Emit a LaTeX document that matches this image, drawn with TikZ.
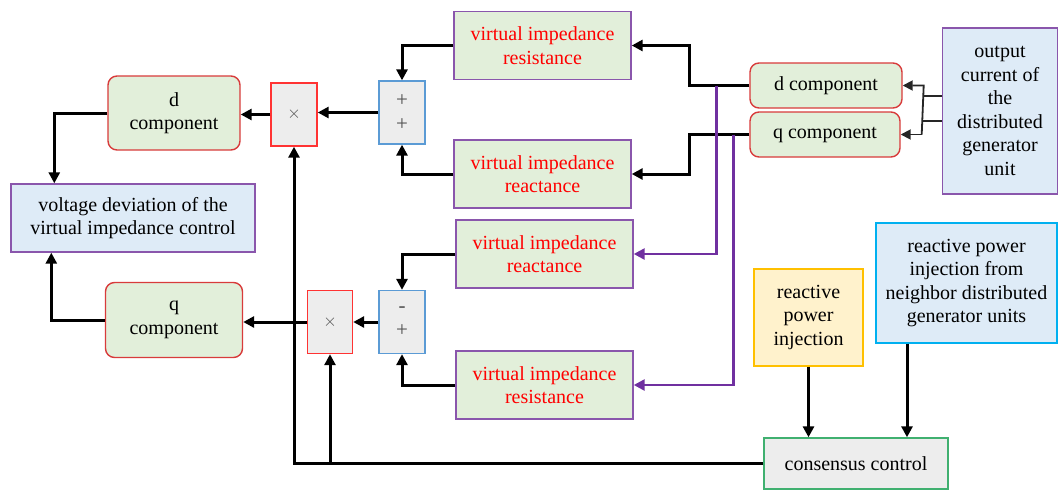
\documentclass[tikz,border=0pt]{standalone}
\usepackage{fontspec}
\setmainfont{Liberation Serif}
\usepackage{tikz}
\usetikzlibrary{arrows.meta}

\definecolor{boxgreen}{HTML}{E2EFDA}
\definecolor{boxgray}{HTML}{EDEDED}
\definecolor{boxblue}{HTML}{DEEBF7}
\definecolor{boxyellow}{HTML}{FFF2CC}
\definecolor{compred}{HTML}{D83B3B}
\definecolor{multred}{HTML}{FF3333}
\definecolor{sumblue}{HTML}{5B9BD5}
\definecolor{vipurple}{HTML}{8A56AC}
\definecolor{arrpurple}{HTML}{7030A0}
\definecolor{injyellow}{HTML}{FFC000}
\definecolor{neighcyan}{HTML}{00B0F0}
\definecolor{consgreen}{HTML}{40B070}
\definecolor{signgray}{HTML}{505050}

\begin{document}
\begin{tikzpicture}[x=1pt,y=-1pt,
    font=\fontsize{20}{23.5}\selectfont,
    comp/.style={draw=compred,fill=boxgreen,rounded corners=9pt,line width=1.4pt,align=center,inner sep=0pt},
    mult/.style={draw=multred,fill=boxgray,line width=1.4pt,inner sep=0pt,minimum width=46,minimum height=63,text=signgray,font=\fontsize{16}{18}\selectfont},
    sumbox/.style={draw=sumblue,fill=boxgray,line width=1.3pt,inner sep=0pt,minimum width=46,minimum height=63,align=center,text=signgray,font=\fontsize{21}{24}\selectfont},
    vibox/.style={draw=vipurple,fill=boxgreen,line width=1.4pt,inner sep=0pt,minimum width=177,minimum height=68,align=center,text=red},
    infobox/.style={line width=1.4pt,inner sep=0pt,align=center},
    arr/.style={line width=3pt,-{Triangle[length=11pt,width=11pt]}},
    parr/.style={line width=2.5pt,draw=arrpurple,-{Triangle[length=11pt,width=11pt]}},
    fork/.style={line width=1.8pt,draw=black!85}]
  \useasboundingbox (0,0) rectangle (1059,490);

  % left column
  \node[comp,minimum width=132,minimum height=74] (dcompL) at (174,113) {d\\component};
  \node[comp,minimum width=137,minimum height=75] (qcompL) at (174,320) {q\\component};
  \node[infobox,draw=vipurple,fill=boxblue,minimum width=244,minimum height=68] (volt) at (133,218) {voltage deviation of the\\virtual impedance control};

  % multipliers and sums
  \node[mult] (multA) at (294,114.5) {$\times$};
  \node[mult,minimum width=45] (multB) at (330,322) {$\times$};
  \node[sumbox] (sumA) at (402,112.5) {+\\+};
  \node[sumbox] (sumB) at (402,322) {-\\+};

  % virtual impedance blocks
  \node[vibox] (viresA) at (542.5,45.5) {virtual impedance\\resistance};
  \node[vibox] (vireaA) at (542.5,174) {virtual impedance\\reactance};
  \node[vibox] (vireaB) at (544.5,254) {virtual impedance\\reactance};
  \node[vibox] (viresB) at (544.5,385) {virtual impedance\\resistance};

  % right side
  \node[comp,minimum width=152,minimum height=45] (dcompR) at (826,85.5) {d component};
  \node[comp,minimum width=150,minimum height=45] (qcompR) at (825,134.5) {q component};
  \node[infobox,draw=vipurple,fill=boxblue,minimum width=115,minimum height=166] (output) at (1000,111) {output\\current of\\the\\distributed\\generator\\unit};
  \node[infobox,draw=injyellow,fill=boxyellow,minimum width=109,minimum height=97] (reactinj) at (808.5,317.5) {reactive\\power\\injection};
  \node[infobox,draw=neighcyan,fill=boxblue,minimum width=181,minimum height=120] (neigh) at (966.5,283) {reactive power\\injection from\\neighbor distributed\\generator units};
  \node[infobox,draw=consgreen,fill=boxgray,minimum width=184,minimum height=51] (cons) at (856,463.5) {consensus control};

  % connectors
  \draw[arr] (dcompL.west) -| ([xshift=44pt]volt.north west);
  \draw[arr] (qcompL.west) -| ([xshift=41pt]volt.south west);
  \draw[arr] (multA.west) -- (multA.west -| dcompL.east);
  \draw[arr] (multB.west) -- (multB.west -| qcompL.east);
  \draw[arr] (sumA.west) -- (sumA.west -| multA.east);
  \draw[arr] (sumB.west) -- (sumB.west -| multB.east);
  \draw[arr] (viresA.west) -| (sumA.north);
  \draw[arr] (vireaA.west) -| (sumA.south);
  \draw[arr] (vireaB.west) -| (sumB.north);
  \draw[arr] (viresB.west) -| (sumB.south);
  \draw[arr] (cons.west) -| (multA.south);
  \draw[arr] (cons.west -| multB.south) -- (multB.south);
  \draw[arr] (dcompR.west) -- ++(-60,0) |- (viresA.east);
  \draw[arr] (qcompR.west) -- ++(-60,0) |- (vireaA.east);
  \draw[parr] ([xshift=-33pt]dcompR.west) |- (vireaB.east);
  \draw[parr] ([xshift=-16pt]qcompR.west) |- (viresB.east);
  \draw[arr] (reactinj.south) -- (reactinj.south |- cons.north);
  \draw[arr] ([xshift=-59.5pt]neigh.south) -- ([xshift=-59.5pt]neigh.south |- cons.north);

  % fork from the output current
  \draw[fork] ([yshift=15pt]output.west) -- ++(-19,0);
  \draw[fork] ([yshift=-10pt]output.west) -- ++(-19,0);
  \draw[fork,-{Triangle[length=10pt,width=10pt]}] ([xshift=21pt]qcompR.east) -- ([xshift=21pt]dcompR.east) -- (dcompR.east);
  \draw[fork,-{Triangle[length=10pt,width=10pt]}] ([xshift=21pt]qcompR.east) -- (qcompR.east);
\end{tikzpicture}
\end{document}
